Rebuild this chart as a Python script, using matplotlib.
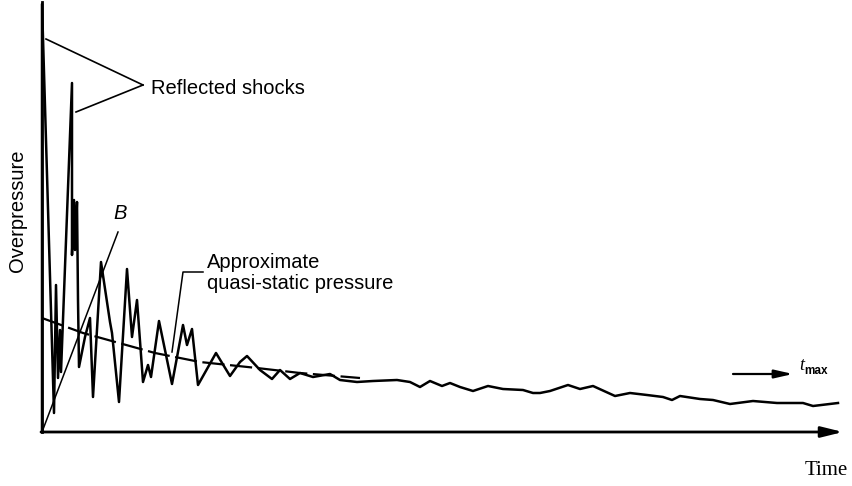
import matplotlib.pyplot as plt

# overpressure trace, time and pressure in plot units
trace_t = [0, 0, 12, 14, 16, 18, 19, 30, 30, 32, 33, 35, 36, 37, 43, 48, 51,
           59, 68, 70, 77, 85, 90, 95, 101, 106, 109, 117, 130, 141, 145, 150, 156,
           174, 188, 198, 205, 218, 230, 238, 248, 258, 271, 288, 298, 315, 331, 355,
           368, 378, 388, 400, 408, 418, 431, 446, 461, 481, 491, 498, 508, 526, 538,
           551, 573, 588, 605, 621, 630, 638, 658, 671, 688, 711, 735, 761, 771, 796]
trace_p = [0, 428, 19, 147, 54, 102, 60, 349, 177, 232, 182, 230, 132, 65, 95, 114, 35,
           170, 110, 99, 30, 163, 95, 132, 50, 67, 55, 111, 48, 107, 87, 103, 47,
           79, 56, 70, 76, 62, 53, 62, 53, 59, 55, 58, 52, 50, 51, 52,
           50, 45, 51, 46, 49, 45, 41, 46, 43, 42, 39, 39, 41, 47, 43,
           46, 36, 39, 37, 35, 32, 36, 33, 32, 28, 31, 29, 29, 26, 29]

# approximate quasi-static pressure
qs_t = [0, 41, 113, 158, 215, 258, 318]
qs_p = [114, 99, 79, 70, 64, 59, 54]

# line B
b_t = [0, 76]
b_p = [0, 200]

fig = plt.figure(figsize=(8.52, 4.86), dpi=100)
ax = fig.add_axes([42 / 852, 54 / 486, 810 / 852, 432 / 486])
ax.set_xlim(0, 810)
ax.set_ylim(0, 432)
ax.axis('off')

sans = 'Liberation Sans'
fs = 14.5

# axes drawn by hand
ax.plot([0, 0], [0, 430], color='k', lw=2.0, clip_on=False)
ax.annotate('', xy=(801, 0), xytext=(-1, 0),
            arrowprops=dict(arrowstyle='-|>,head_length=1.3,head_width=0.32',
                            color='k', lw=2.0, shrinkA=0, shrinkB=0),
            annotation_clip=False)

ax.plot(trace_t, trace_p, color='k', lw=1.8, solid_joinstyle='round', clip_on=False)
ax.plot(qs_t, qs_p, color='k', lw=1.6, dashes=(10, 2.5))
ax.plot(b_t, b_p, color='k', lw=1.1)

# leaders for the reflected shocks
ax.plot([4, 101], [393, 347], color='k', lw=1.2)
ax.plot([34, 101], [320, 347], color='k', lw=1.2)
ax.text(109, 344, 'Reflected shocks', fontsize=fs, family=sans, va='center')

ax.text(78, 219, 'B', fontsize=fs, family=sans, style='italic', ha='center', va='center')

ax.plot([130, 141, 161], [80, 160, 160], color='k', lw=1.1)
ax.text(165, 170, 'Approximate', fontsize=fs, family=sans, va='center')
ax.text(165, 149, 'quasi-static pressure', fontsize=fs, family=sans, va='center')

# t_max marker
ax.annotate('', xy=(751, 58), xytext=(691, 58),
            arrowprops=dict(arrowstyle='-|>,head_length=1.1,head_width=0.25',
                            color='k', lw=1.6, shrinkA=0, shrinkB=0))
ax.text(757, 67, 't', fontsize=13, family='Liberation Serif', style='italic',
        ha='left', va='center')
ax.text(762, 61, 'max', fontsize=8.5, family=sans, weight='bold', ha='left', va='center')

ax.text(-24, 221, 'Overpressure', fontsize=fs, family=sans, rotation=90,
        ha='center', va='center')
ax.text(806, -38, 'Time', fontsize=15, family='Liberation Serif', ha='right', va='center')

fig.savefig('out.png', dpi=100)
